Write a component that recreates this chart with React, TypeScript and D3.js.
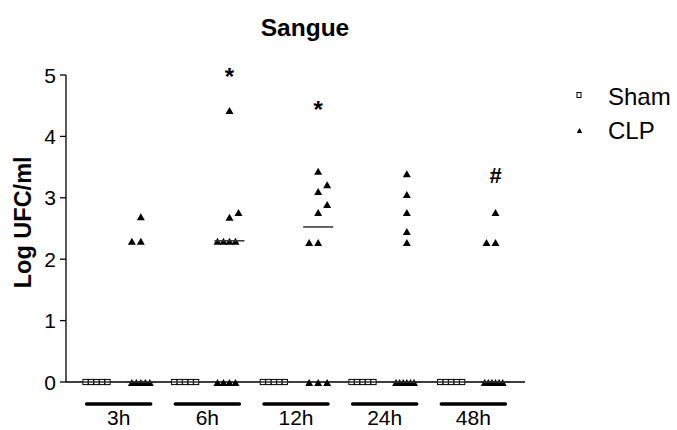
import React from "react";
import * as d3 from "d3";

// Blood bacterial load (log CFU/ml) per time point, Sham vs CLP
const timePoints = ["3h", "6h", "12h", "24h", "48h"];
const seriesNames = ["Sham", "CLP"];

const shamValues: number[][] = [
  [0, 0, 0, 0, 0],
  [0, 0, 0, 0, 0],
  [0, 0, 0, 0, 0],
  [0, 0, 0, 0, 0],
  [0, 0, 0, 0, 0],
];

const clpValues: number[][] = [
  [0, 0, 0, 0, 0, 2.3, 2.3, 2.7],
  [0, 0, 0, 0, 2.3, 2.3, 2.3, 2.3, 2.69, 2.77, 4.43],
  [0, 0, 0, 2.28, 2.28, 2.77, 2.9, 3.11, 3.22, 3.44],
  [0, 0, 0, 0, 0, 0, 2.28, 2.46, 2.77, 3.06, 3.4],
  [0, 0, 0, 0, 0, 0, 2.28, 2.28, 2.77],
];

const yTicks = [0, 1, 2, 3, 4, 5];

// significance marks placed above the CLP columns
const markGroups = ["6h", "12h", "48h"];
const markTexts = ["*", "*", "#"];
const markLevels = [5.03, 4.5, 3.37];

const W = 677;
const H = 430;
const FONT = "'Liberation Sans', Arial, Helvetica, sans-serif";

const y = d3.scaleLinear().domain([0, 5]).range([382, 75]);
const columns = timePoints.flatMap((t) => seriesNames.map((s) => `${t}|${s}`));
const x = d3.scalePoint<string>().domain(columns).range([96.5, 495.5]);
const axisLeft = 66;
const axisRight = 525;

type Placed = { v: number; dx: number };

// Spread overlapping points sideways like a column scatter plot
function spread(values: number[], maxSpan: number, symbolH: number): Placed[] {
  const sorted = [...values].sort((a, b) => a - b);
  const clusters: number[][] = [];
  sorted.forEach((v) => {
    const last = clusters[clusters.length - 1];
    if (last && Math.abs(y(last[last.length - 1]) - y(v)) < symbolH) last.push(v);
    else clusters.push([v]);
  });
  const out: Placed[] = [];
  clusters.forEach((c) => {
    const n = c.length;
    const step = n > 1 ? Math.min(9, maxSpan / (n - 1)) : 0;
    // tied values fan out to the left first, near-ties to the right
    const dir = c.every((v) => v === c[0]) ? -1 : 1;
    c.forEach((v, i) => {
      const k = i === 0 ? 0 : (i % 2 === 1 ? dir : -dir) * Math.ceil(i / 2);
      out.push({ v, dx: k * step });
    });
  });
  return out;
}

const triPath = (cx: number, cy: number, w: number, h: number) =>
  `M${cx - w / 2},${cy + h / 2}L${cx + w / 2},${cy + h / 2}L${cx},${cy - h / 2}Z`;

export default function App() {
  const groupCenter = (t: string) => ((x(`${t}|Sham`) as number) + (x(`${t}|CLP`) as number)) / 2;

  return (
    <svg
      width={W}
      height={H}
      viewBox={`0 0 ${W} ${H}`}
      style={{ position: "absolute", left: 0, top: 0, background: "#fff" }}
      fontFamily={FONT}
    >
      <text x={305} y={36} textAnchor="middle" fontSize={24.5} fontWeight="bold" fill="#000">
        Sangue
      </text>

      {/* y axis */}
      <line x1={axisLeft} x2={axisLeft} y1={y(5)} y2={y(0)} stroke="#000" strokeWidth={1.3} />
      {yTicks.map((t) => (
        <g key={t}>
          <line x1={axisLeft - 6} x2={axisLeft} y1={y(t)} y2={y(t)} stroke="#000" strokeWidth={1.3} />
          <text x={56} y={y(t) + 7.5} textAnchor="end" fontSize={21} fill="#000">
            {t}
          </text>
        </g>
      ))}
      <text
        transform={`translate(31,${y(2.6)}) rotate(-90)`}
        textAnchor="middle"
        fontSize={23.5}
        fontWeight="bold"
        fill="#000"
      >
        Log UFC/ml
      </text>

      {/* x axis */}
      <line x1={axisLeft} x2={axisRight} y1={y(0)} y2={y(0)} stroke="#000" strokeWidth={1.3} />
      {timePoints.map((t) => {
        const c = groupCenter(t);
        return (
          <g key={t}>
            <line x1={c - 32} x2={c + 32} y1={404} y2={404} stroke="#000" strokeWidth={3.5} strokeLinecap="round" />
            <text x={c} y={425} textAnchor="middle" fontSize={21} fill="#000">
              {t}
            </text>
          </g>
        );
      })}

      {/* points and medians */}
      {timePoints.map((t, gi) => {
        const sx = x(`${t}|Sham`) as number;
        const cx = x(`${t}|CLP`) as number;
        const sham = spread(shamValues[gi], 22, 8);
        const clp = spread(clpValues[gi], 18, 8.5);
        const shamMed = d3.median(shamValues[gi]) as number;
        const clpMed = d3.median(clpValues[gi]) as number;
        return (
          <g key={t}>
            {sham.map((p, i) => (
              <rect
                key={i}
                x={sx + p.dx - 2.6}
                y={y(p.v) - 2.6}
                width={5.2}
                height={5.2}
                fill="#fff"
                stroke="#000"
                strokeWidth={1}
              />
            ))}
            {clp.map((p, i) => (
              <path key={i} d={triPath(cx + p.dx, y(p.v) + 0.5, 8, 7)} fill="#000" />
            ))}
            <line x1={sx - 15} x2={sx + 15} y1={y(shamMed)} y2={y(shamMed)} stroke="#333" strokeWidth={1.5} />
            <line x1={cx - 15} x2={cx + 15} y1={y(clpMed)} y2={y(clpMed)} stroke="#333" strokeWidth={1.5} />
          </g>
        );
      })}

      {/* significance marks */}
      {markGroups.map((g, i) => (
        <text
          key={i}
          x={x(`${g}|CLP`) as number}
          y={y(markLevels[i]) + (markTexts[i] === "*" ? 12 : 8)}
          textAnchor="middle"
          fontSize={markTexts[i] === "*" ? 24 : 22}
          fontWeight="bold"
          fill="#000"
        >
          {markTexts[i]}
        </text>
      ))}

      {/* legend */}
      <rect x={577} y={92.5} width={4} height={5} fill="#fff" stroke="#000" strokeWidth={1} />
      <text x={608} y={104.5} fontSize={24} fill="#000">
        {seriesNames[0]}
      </text>
      <path d={triPath(579.5, 130.5, 5.5, 5)} fill="#000" />
      <text x={608} y={138.5} fontSize={24} fill="#000">
        {seriesNames[1]}
      </text>
    </svg>
  );
}
